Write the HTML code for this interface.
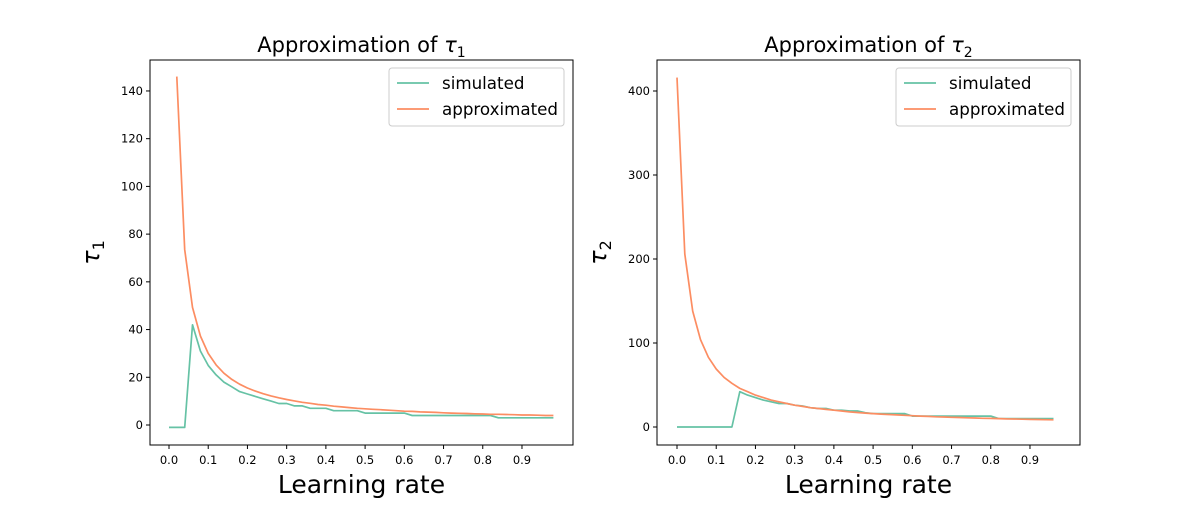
<!DOCTYPE html>
<html><head><meta charset="utf-8"><style>
body{margin:0;background:#fff;font-family:"Liberation Sans","DejaVu Sans",sans-serif}
svg text{font-family:"DejaVu Sans","Liberation Sans",sans-serif}
</style></head><body>
<svg id="c" width="1200" height="500" xmlns="http://www.w3.org/2000/svg"></svg>
<script>
const xLeft = [0,0.02,0.04,0.06,0.08,0.1,0.12,0.14,0.16,0.18,0.2,0.22,0.24,0.26,0.28,0.3,0.32,0.34,0.36,0.38,0.4,0.42,0.44,0.46,0.48,0.5,0.52,0.54,0.56,0.58,0.6,0.62,0.64,0.66,0.68,0.7,0.72,0.74,0.76,0.78,0.8,0.82,0.84,0.86,0.88,0.9,0.92,0.94,0.96,0.98];
const sim1 = [-1,-1,-1,42,31,25,21,18,16,14,13,12,11,10,9,9,8,8,7,7,7,6,6,6,6,5,5,5,5,5,5,4,4,4,4,4,4,4,4,4,4,4,3,3,3,3,3,3,3,3];
const approx1 = [null,146,73.5,49.3,37.3,30,25.2,21.7,19.1,17.1,15.5,14.2,13.1,12.2,11.4,10.7,10.1,9.5,9.1,8.6,8.3,7.9,7.6,7.3,7.0,6.8,6.6,6.4,6.2,6.0,5.8,5.7,5.5,5.4,5.3,5.1,5.0,4.9,4.8,4.7,4.6,4.5,4.5,4.4,4.3,4.2,4.2,4.1,4.0,4.0];
const xRight = [0,0.02,0.04,0.06,0.08,0.1,0.12,0.14,0.16,0.18,0.2,0.22,0.24,0.26,0.28,0.3,0.32,0.34,0.36,0.38,0.4,0.42,0.44,0.46,0.48,0.5,0.52,0.54,0.56,0.58,0.6,0.62,0.64,0.66,0.68,0.7,0.72,0.74,0.76,0.78,0.8,0.82,0.84,0.86,0.88,0.9,0.92,0.94,0.96];
const sim2 = [0,0,0,0,0,0,0,0,42,38,35,32,30,28,28,26,25,23,22,22,20,20,19,19,17,16,16,16,16,16,13,13,13,13,13,13,13,13,13,13,13,10,10,10,10,10,10,10,10];
const approx2 = [416,206,138,104,83,69,59,52,46,42,38,35,32,30,28,26,24.5,23,22,21,20,19,18,17.3,16.6,16,15.4,14.9,14.4,13.9,13.4,13,12.6,12.2,11.9,11.6,11.3,11,10.7,10.4,10.2,10,9.7,9.5,9.3,9.1,8.9,8.7,8.6];
const xTicks = [0,0.1,0.2,0.3,0.4,0.5,0.6,0.7,0.8,0.9];
const yTicks1 = [0,20,40,60,80,100,120,140];
const yTicks2 = [0,100,200,300,400];

const svg = document.getElementById('c');
const NS = 'http://www.w3.org/2000/svg';
function mk(tag, attrs, parent){const e=document.createElementNS(NS,tag);for(const k in attrs)e.setAttribute(k,attrs[k]);(parent||svg).appendChild(e);return e;}

function panel(p){
  const g = mk('g',{});
  
  
  const sx = v => p.x0 + v*p.kx;
  const sy = v => p.y0 - v*p.ky;
  const frame = mk('rect',{x:p.L,y:p.T,width:p.R-p.L,height:p.B-p.T,fill:'none',stroke:'#000','stroke-width':1},g);
  
  
  xTicks.forEach(t=>{
    const x=sx(t);
    mk('line',{x1:x,x2:x,y1:p.B,y2:p.B+4,stroke:'#000'},g);
    const tx=mk('text',{x:x,y:p.B+19,'font-size':11.5,'text-anchor':'middle'},g);
    tx.textContent=t.toFixed(1);
    
    
  });
  p.yTicks.forEach(t=>{
    const y=sy(t);
    mk('line',{x1:p.L-4,x2:p.L,y1:y,y2:y,stroke:'#000'},g);
    const tx=mk('text',{x:p.L-7,y:y+4,'font-size':11.5,'text-anchor':'end'},g);
    tx.textContent=t;
    
    
  });
  function line(xs,ys,color,name){
    let d='';
    ys.forEach((v,i)=>{ if(v===null) return; d+=(d?'L':'M')+sx(xs[i]).toFixed(1)+','+sy(v).toFixed(1);});
    const pth=mk('path',{d:d,fill:'none',stroke:color,'stroke-width':1.7,'stroke-linejoin':'round'},g);
    
    
  }
  line(p.xs,p.sim,'#66c2a5','simulated-line');
  line(p.xs,p.approx,'#fc8d62','approximated-line');
  const ti=mk('text',{x:(p.L+p.R)/2,y:52,'font-size':21,'text-anchor':'middle'},g);
  ti.innerHTML='Approximation of <tspan font-style="italic">τ</tspan><tspan font-size="14" dy="5">'+p.sub+'</tspan>';
  
  
  const xl=mk('text',{x:(p.L+p.R)/2,y:493,'font-size':25,'text-anchor':'middle'},g);
  xl.textContent='Learning rate';
  
  
  const yl=mk('text',{x:0,y:0,'font-size':24,'text-anchor':'middle',transform:'translate('+(p.L-51)+','+((p.T+p.B)/2)+') rotate(-90)'},g);
  yl.innerHTML='<tspan font-style="italic">τ</tspan><tspan font-size="16" dy="5">'+p.sub+'</tspan>';
  
  
  const lg=mk('g',{},g);
  
  
  const lx=p.R-184;
  mk('rect',{x:lx,y:68,width:175,height:58,rx:3,fill:'#fff',stroke:'#ccc'},lg);
  [['simulated','#66c2a5',83],['approximated','#fc8d62',109]].forEach(([t,c,y])=>{
    const e=mk('g',{},lg);
    
    
    mk('line',{x1:lx+8,x2:lx+40,y1:y,y2:y,stroke:c,'stroke-width':1.8},e);
    const tt=mk('text',{x:lx+53,y:y+6,'font-size':16.7},e);
    tt.textContent=t;
  });
}
panel({name:'tau1-panel',L:150,R:573,T:60,B:445,x0:169,kx:392.2,y0:425,ky:2.386,yTicks:yTicks1,xs:xLeft,sim:sim1,approx:approx1,sub:'1'});
panel({name:'tau2-panel',L:657,R:1080,T:60,B:445,x0:677,kx:392.2,y0:427,ky:0.84,yTicks:yTicks2,xs:xRight,sim:sim2,approx:approx2,sub:'2'});
</script>
</body></html>
